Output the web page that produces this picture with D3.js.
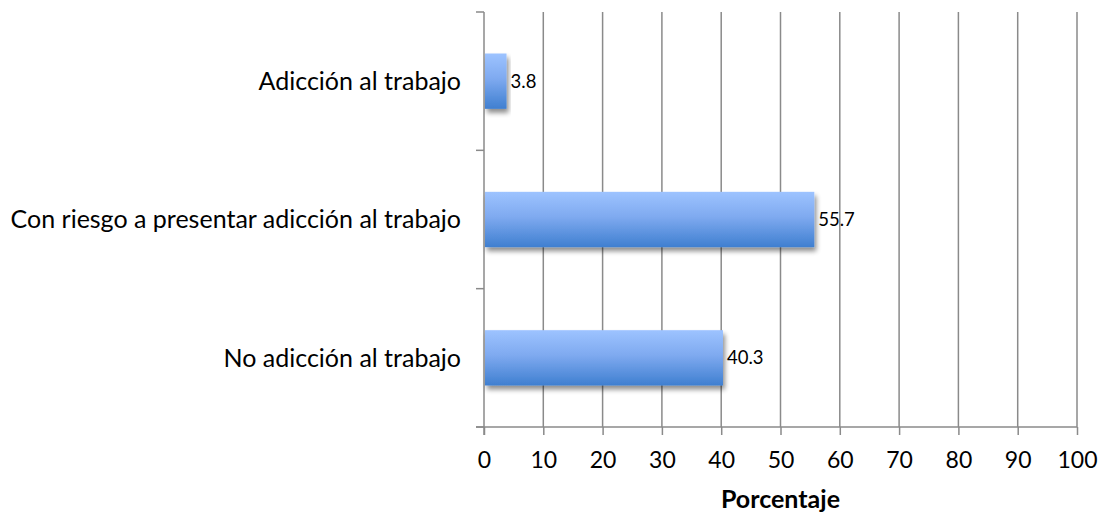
<!DOCTYPE html>
<html>
<head>
<meta charset="utf-8">
<script src="https://cdn.jsdelivr.net/npm/d3@7"></script>
<style>
  html, body { margin: 0; padding: 0; background: #fff; }
  svg { display: block; }
  text { font-family: Lato, "Open Sans", sans-serif; fill: #000; }
</style>
</head>
<body>
<svg id="chart" width="1101" height="514"></svg>
<script>
// Categories (top to bottom) and their percentages
const categories = [
  "Adicción al trabajo",
  "Con riesgo a presentar adicción al trabajo",
  "No adicción al trabajo"
];
const values = [3.8, 55.7, 40.3];
const xTicks = [0, 10, 20, 30, 40, 50, 60, 70, 80, 90, 100];
const xTitle = "Porcentaje";

const svg = d3.select("#chart");
const plot = { left: 484, right: 1077, top: 12, bottom: 427 };

const x = d3.scaleLinear().domain([0, 100]).range([plot.left, plot.right]);
const y = d3.scaleBand().domain(categories).range([plot.top, plot.bottom]).paddingInner(0.6).paddingOuter(0.3);
const yBounds = d3.scaleLinear().domain([0, categories.length]).range([plot.top, plot.bottom]);

const defs = svg.append("defs");
const grad = defs.append("linearGradient")
  .attr("id", "barFill").attr("x1", 0).attr("y1", 0).attr("x2", 0).attr("y2", 1);
grad.append("stop").attr("offset", "0%").attr("stop-color", "#9dc3ff");
grad.append("stop").attr("offset", "45%").attr("stop-color", "#7faaf0");
grad.append("stop").attr("offset", "100%").attr("stop-color", "#3f7fd0");

const shadow = defs.append("filter").attr("id", "barShadow")
  .attr("x", "-10%").attr("y", "-20%").attr("width", "130%").attr("height", "160%");
shadow.append("feGaussianBlur").attr("in", "SourceAlpha").attr("stdDeviation", 2.5).attr("result", "blur");
shadow.append("feOffset").attr("in", "blur").attr("dx", 2).attr("dy", 4).attr("result", "off");
shadow.append("feComponentTransfer").attr("in", "off").attr("result", "shade")
  .append("feFuncA").attr("type", "linear").attr("slope", 0.45);
const merge = shadow.append("feMerge");
merge.append("feMergeNode").attr("in", "shade");
merge.append("feMergeNode").attr("in", "SourceGraphic");

const lineColor = "#8a8a8a";

// vertical gridlines
svg.append("g").selectAll("line").data(xTicks.slice(1)).join("line")
  .attr("x1", d => x(d)).attr("x2", d => x(d))
  .attr("y1", plot.top).attr("y2", plot.bottom)
  .attr("stroke", lineColor).attr("stroke-width", 1.5);

// x axis
const xAxis = svg.append("g")
  .attr("transform", `translate(0,${plot.bottom})`)
  .call(d3.axisBottom(x).tickValues(xTicks).tickSizeInner(8).tickSizeOuter(0).tickPadding(17));
xAxis.select(".domain").attr("stroke", lineColor).attr("stroke-width", 1.5)
  .attr("d", `M${plot.left - 8},0H${plot.right}`);
xAxis.selectAll(".tick line").attr("stroke", lineColor).attr("stroke-width", 1.5);
xAxis.selectAll(".tick text").attr("font-size", 23).attr("font-family", "Lato, sans-serif").attr("fill", "#000");

// y axis line with category boundary ticks
const yAxisG = svg.append("g");
yAxisG.append("line")
  .attr("x1", plot.left).attr("x2", plot.left)
  .attr("y1", plot.top).attr("y2", plot.bottom + 8)
  .attr("stroke", lineColor).attr("stroke-width", 1.5);
yAxisG.selectAll("line.tk").data(d3.range(0, categories.length + 1)).join("line")
  .attr("class", "tk")
  .attr("x1", plot.left - 8).attr("x2", plot.left)
  .attr("y1", d => yBounds(d)).attr("y2", d => yBounds(d))
  .attr("stroke", lineColor).attr("stroke-width", 1.5);

// category labels
svg.append("g").selectAll("text").data(categories).join("text")
  .attr("x", plot.left - 23)
  .attr("y", d => y(d) + y.bandwidth() / 2)
  .attr("dy", "0.35em")
  .attr("text-anchor", "end")
  .attr("font-size", 25)
  .text(d => d);

// bars
svg.append("g").selectAll("rect").data(values).join("rect")
  .attr("x", x(0) + 1)
  .attr("y", (d, i) => y(categories[i]))
  .attr("width", d => x(d) - x(0) - 1)
  .attr("height", y.bandwidth())
  .attr("fill", "url(#barFill)")
  .attr("filter", "url(#barShadow)");

// value labels
svg.append("g").selectAll("text").data(values).join("text")
  .attr("x", d => x(d) + 4)
  .attr("y", (d, i) => y(categories[i]) + y.bandwidth() / 2)
  .attr("dy", "0.35em")
  .attr("font-size", 18.5)
  .text(d => d.toFixed(1));

// axis title
svg.append("text")
  .attr("x", (plot.left + plot.right) / 2)
  .attr("y", 508)
  .attr("text-anchor", "middle")
  .attr("font-size", 25)
  .attr("font-weight", "bold")
  .text(xTitle);
</script>
</body>
</html>
